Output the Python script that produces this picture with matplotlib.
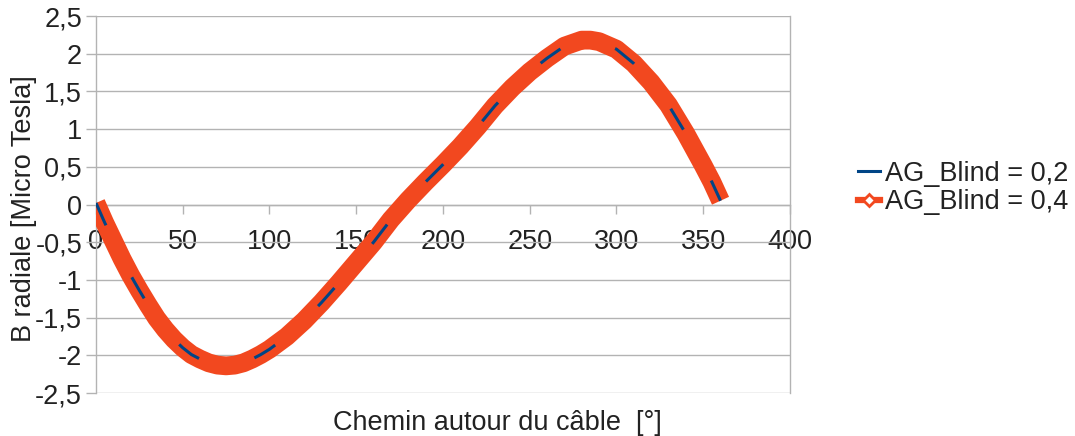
import numpy as np
import matplotlib
matplotlib.use("Agg")
import matplotlib.pyplot as plt
from matplotlib.lines import Line2D
from matplotlib.ticker import FuncFormatter

plt.rcParams['font.family'] = ['Liberation Sans', 'DejaVu Sans']

# angle along the path around the cable [deg]
angle = [0, 5, 10, 15, 20, 25, 30, 35, 40, 45, 50, 55, 60, 65, 70, 75, 80, 85,
         90, 95, 100, 110, 120, 130, 140, 150, 160, 170, 180, 190, 200, 210,
         220, 230, 240, 250, 260, 270, 280, 285, 290, 300, 310, 320, 330, 340,
         350, 355, 360]
# radial field [uT]
b_02 = [0.02, -0.24, -0.48, -0.72, -0.94, -1.14, -1.33, -1.51, -1.66, -1.79,
        -1.90, -1.99, -2.05, -2.10, -2.13, -2.14, -2.13, -2.10, -2.05, -1.99,
        -1.92, -1.75, -1.54, -1.30, -1.04, -0.77, -0.50, -0.20, 0.06, 0.30,
        0.53, 0.77, 1.03, 1.31, 1.55, 1.76, 1.94, 2.10, 2.18, 2.18, 2.16,
        2.06, 1.87, 1.62, 1.32, 0.94, 0.52, 0.30, 0.05]
b_04 = list(b_02)

labels = ['AG_Blind = 0,2', 'AG_Blind = 0,4']
blue = '#004586'
orange = '#f2481f'
grid_c = '#b3b3b3'
text_c = '#222222'
fs = 19.5

fig = plt.figure(figsize=(10.75, 4.36), dpi=100)
ax = fig.add_axes([0.0893, 0.0986, 0.6455, 0.8647])

ax.plot(angle, b_04, color=orange, lw=13.5, solid_capstyle='butt',
        solid_joinstyle='round', zorder=3)
ax.plot(angle, b_02, color=blue, lw=2.2, dashes=(8, 19), zorder=4)

ax.set_xlim(0, 400)
ax.set_ylim(-2.5, 2.5)
ax.set_xticks(np.arange(0, 401, 50))
ax.set_yticks(np.arange(-2.5, 2.51, 0.5))

fmt = FuncFormatter(lambda v, p: ('%g' % v).replace('.', ','))
ax.yaxis.set_major_formatter(fmt)

ax.yaxis.grid(True, color=grid_c, lw=1.0, zorder=0)
ax.set_axisbelow(True)

for s in ['top', 'right', 'left', 'bottom']:
    ax.spines[s].set_color(grid_c)
    ax.spines[s].set_linewidth(1.0)
ax.spines['top'].set_visible(False)
ax.spines['bottom'].set_position(('data', 0))

ax.tick_params(axis='x', direction='out', length=6.5, width=1.0, color=grid_c,
               labelsize=fs, labelcolor=text_c, pad=11)
ax.tick_params(axis='y', direction='out', length=7, width=1.0, color=grid_c,
               labelsize=fs, labelcolor=text_c, pad=3)

ax.set_xlabel('Chemin autour du câble  [°]', fontsize=fs, color=text_c)
ax.xaxis.set_label_coords(0.578, -0.044)
ax.set_ylabel('B radiale [Micro Tesla]', fontsize=fs, color=text_c)
ax.yaxis.set_label_coords(-0.085, 0.49)

handles = [
    Line2D([], [], color=blue, lw=2.2),
    Line2D([], [], color=orange, lw=4.5, marker='D', markersize=6,
           markerfacecolor='white', markeredgecolor=orange, markeredgewidth=2),
]
fig.legend(handles, labels, loc='center left', bbox_to_anchor=(0.798, 0.569),
           frameon=False, fontsize=fs, handlelength=0.8, handletextpad=0.2,
           labelspacing=0.1, borderpad=0, borderaxespad=0, labelcolor=text_c)

fig.savefig('out.png', dpi=100)
